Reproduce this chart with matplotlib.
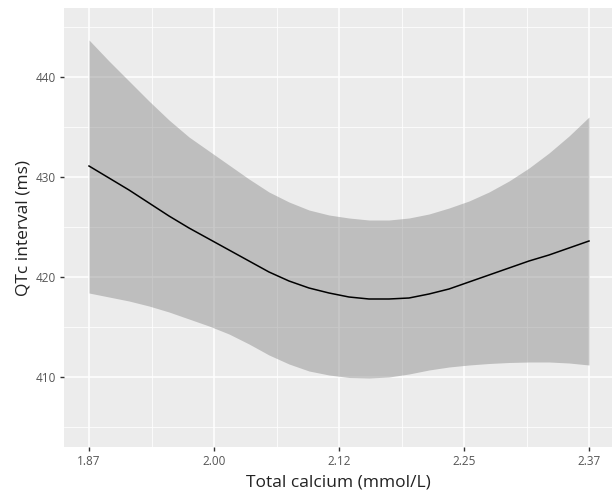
import numpy as np
import matplotlib.pyplot as plt

plt.rcParams['font.family'] = ['Open Sans', 'DejaVu Sans']

# values
calcium = [1.87, 1.89, 1.91, 1.93, 1.95, 1.97, 1.99, 2.01, 2.03, 2.05,
           2.07, 2.09, 2.11, 2.13, 2.15, 2.17, 2.19, 2.21, 2.23, 2.25,
           2.27, 2.29, 2.31, 2.33, 2.35, 2.37]
qtc = [431.1, 429.9, 428.7, 427.4, 426.1, 424.9, 423.8, 422.7, 421.6, 420.5,
       419.6, 418.9, 418.4, 418.0, 417.8, 417.8, 417.9, 418.3, 418.8, 419.5,
       420.2, 420.9, 421.6, 422.2, 422.9, 423.6]
upper = [443.7, 441.6, 439.6, 437.6, 435.7, 434.0, 432.6, 431.2, 429.8, 428.5,
         427.5, 426.7, 426.2, 425.9, 425.7, 425.7, 425.9, 426.3, 426.9, 427.6,
         428.5, 429.6, 430.9, 432.4, 434.1, 436.0]
lower = [418.4, 418.0, 417.6, 417.1, 416.5, 415.8, 415.1, 414.3, 413.3, 412.2,
         411.3, 410.6, 410.2, 409.95, 409.9, 410.0, 410.3, 410.7, 411.0, 411.2,
         411.35, 411.45, 411.5, 411.5, 411.4, 411.2]

xticks = [1.87, 1.995, 2.12, 2.245, 2.37]
xtick_labels = ['1.87', '2.00', '2.12', '2.25', '2.37']
yticks = [410, 420, 430, 440]

fig = plt.figure(figsize=(6.12, 4.92), dpi=100)
ax = fig.add_axes([64 / 612, 45 / 492, 548 / 612, 439 / 492])
ax.set_facecolor('#ECECEC')
for s in ax.spines.values():
    s.set_visible(False)

ax.set_xlim(1.845, 2.393)
ax.set_ylim(403.0, 446.9)

ax.set_xticks(xticks)
ax.set_xticklabels(xtick_labels)
ax.set_yticks(yticks)
ax.set_xticks([1.9325, 2.0575, 2.1825, 2.3075], minor=True)
ax.set_yticks([405, 415, 425, 435, 445], minor=True)

ax.grid(which='major', color='white', linewidth=1.1)
ax.grid(which='minor', color='white', linewidth=0.55)
ax.set_axisbelow(True)

ax.tick_params(which='major', length=3, width=1, color='#333333',
               labelsize=8.5, labelcolor='#555555', pad=3)
ax.tick_params(which='minor', length=0)

ax.fill_between(calcium, lower, upper, color='#808080', alpha=0.42,
                linewidth=0)
ax.plot(calcium, qtc, color='black', linewidth=1.1)

ax.set_xlabel('Total calcium (mmol/L)', fontsize=12.5, color='#222222',
              labelpad=4.5)
ax.set_ylabel('QTc interval (ms)', fontsize=12.5, color='#222222', labelpad=3)

fig.savefig('out.png', dpi=100)
